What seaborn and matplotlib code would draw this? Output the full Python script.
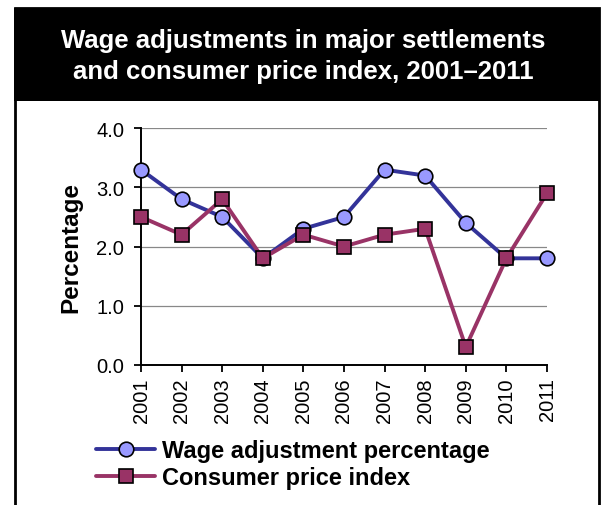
import matplotlib
matplotlib.use("Agg")
import matplotlib.pyplot as plt
from matplotlib.patches import Rectangle
from matplotlib.lines import Line2D
import seaborn as sns
import pandas as pd

years = [2001, 2002, 2003, 2004, 2005, 2006, 2007, 2008, 2009, 2010, 2011]
wage_adjustment = [3.3, 2.8, 2.5, 1.8, 2.3, 2.5, 3.3, 3.2, 2.4, 1.8, 1.8]
consumer_price_index = [2.5, 2.2, 2.8, 1.8, 2.2, 2.0, 2.2, 2.3, 0.3, 1.8, 2.9]
y_ticks = [0.0, 1.0, 2.0, 3.0, 4.0]

title = "Wage adjustments in major settlements\nand consumer price index, 2001\u20132011"
label_wage = "Wage adjustment percentage"
label_cpi = "Consumer price index"

sns.set_theme(style="white")
plt.rcParams["font.family"] = ["Liberation Sans", "DejaVu Sans"]
plt.rcParams["text.color"] = "black"
plt.rcParams["axes.labelcolor"] = "black"

W, H = 601, 506
fig = plt.figure(figsize=(W / 100, H / 100), dpi=100)
fig.patch.set_facecolor("white")

# frame: black title band and side rules
fig.patches.append(Rectangle((15 / W, -0.02), 584 / W, 1.02 - 9 / H, transform=fig.transFigure,
                             facecolor="white", edgecolor="black", linewidth=2.0, zorder=0))
fig.patches.append(Rectangle((14 / W, 1 - 102 / H), 586 / W, 93 / H, transform=fig.transFigure,
                             facecolor="black", edgecolor="black", linewidth=0, zorder=1))
fig.text(303 / W, 1 - 56.5 / H, title, color="white", fontsize=18.5, fontweight="bold",
         ha="center", va="center", linespacing=1.4, zorder=2)

ax = fig.add_axes([141 / W, 1 - 365.7 / H, (547 - 141) / W, (365.7 - 129.3) / H])
ax.set_zorder(5)
ax.set_facecolor("none")

df = pd.DataFrame({"year": years, "wage": wage_adjustment, "cpi": consumer_price_index})

wage_style = dict(color="#333399", linewidth=2.8, marker="o", markersize=10.5,
                  markerfacecolor="#9999FF", markeredgecolor="black", markeredgewidth=1.2)
cpi_style = dict(color="#993366", linewidth=2.8, marker="s", markersize=10,
                 markerfacecolor="#993366", markeredgecolor="black", markeredgewidth=1.2)

sns.lineplot(data=df, x="year", y="wage", ax=ax, clip_on=False, zorder=3, **wage_style)
sns.lineplot(data=df, x="year", y="cpi", ax=ax, clip_on=False, zorder=4, **cpi_style)

ax.set_xlim(years[0], years[-1])
ax.set_ylim(0, 4)
ax.set_yticks(y_ticks)
ax.set_yticklabels([f"{v:.1f}" for v in y_ticks], fontsize=14.5)
ax.set_xticks(years)
ax.set_xticklabels([str(y) for y in years], rotation=90, fontsize=14.5)
ax.set_xlabel("")
ax.set_ylabel("Percentage", fontsize=17.5, fontweight="bold", labelpad=10)

ax.grid(axis="y", color="#888888", linewidth=0.9)
ax.grid(axis="x", visible=False)
for side in ["top", "right"]:
    ax.spines[side].set_visible(False)
for side in ["left", "bottom"]:
    ax.spines[side].set_color("black")
    ax.spines[side].set_linewidth(1.4)
ax.tick_params(axis="both", which="major", direction="out", length=5, width=1.3,
               color="black", labelcolor="black", left=True, bottom=True)
ax.tick_params(axis="y", pad=7)
ax.tick_params(axis="x", pad=4)

handles = [Line2D([], [], **wage_style), Line2D([], [], **cpi_style)]
leg = fig.legend(handles, [label_wage, label_cpi], loc="upper left",
                 bbox_to_anchor=(96 / W, 1 - 440 / H), frameon=False,
                 prop={"size": 17.0, "weight": "bold"}, handlelength=2.5,
                 handletextpad=0.3, labelspacing=0.18, borderaxespad=0, borderpad=0)
for t in leg.get_texts():
    t.set_color("black")

fig.savefig("out.png", dpi=100, facecolor="white")
